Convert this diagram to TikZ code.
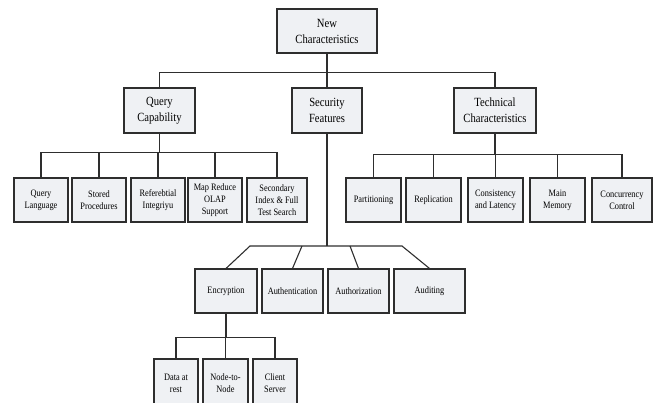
\documentclass[tikz,border=0pt]{standalone}
\usepackage{fontspec}
\setmainfont[FakeStretch=0.85]{Liberation Serif}
\definecolor{boxfill}{HTML}{EFF1F4}
\definecolor{boxline}{HTML}{2E2E2E}
\tikzset{
  bigbox/.style={draw=boxline, line width=1.1pt, fill=boxfill, align=center,
    minimum height=44pt, inner sep=1pt, font=\fontsize{12.5}{16}\selectfont},
  smallbox/.style={bigbox, font=\fontsize{9.8}{12.3}\selectfont},
  link/.style={draw=boxline, line width=1.1pt}
}
\begin{document}
\begin{tikzpicture}[x=1pt,y=-1pt]
    \useasboundingbox (0,0) rectangle (653,402);

    % Raíz
    \node[bigbox, minimum width=100pt] (root) at (327,31) {New\\Characteristics};

    % Primer nivel
    \node[bigbox, minimum width=71pt, minimum height=45pt] (qc) at (159.5,110.5) {Query\\Capability};
    \node[bigbox, minimum width=70pt, minimum height=45pt] (sf) at (327,110.5) {Security\\Features};
    \node[bigbox, minimum width=82pt, minimum height=45pt] (tc) at (495,110.5) {Technical\\Characteristics};

    % Hijos de Query Capability
    \node[smallbox, minimum width=54pt] (ql) at (41,200) {Query\\Language};
    \node[smallbox, minimum width=54pt] (sp) at (99,200) {Stored\\Procedures};
    \node[smallbox, minimum width=54pt] (ri) at (158,200) {Referebtial\\Integriyu};
    \node[smallbox, minimum width=54pt] (mr) at (215,200) {Map Reduce\\OLAP\\Support};
    \node[smallbox, minimum width=60pt] (si) at (277,200) {Secondary\\Index \& Full\\Test Search};

    % Hijos de Technical Characteristics
    \node[smallbox, minimum width=55pt] (pa) at (373.5,200) {Partitioning};
    \node[smallbox, minimum width=55pt] (rp) at (433.5,200) {Replication};
    \node[smallbox, minimum width=55pt] (cl) at (495.5,200) {Consistency\\and Latency};
    \node[smallbox, minimum width=55pt] (mm) at (557.5,200) {Main\\Memory};
    \node[smallbox, minimum width=60pt] (cc) at (622,200) {Concurrency\\Control};

    % Hijos de Security Features
    \node[smallbox, minimum width=62pt] (en) at (226,291) {Encryption};
    \node[smallbox, minimum width=61pt] (au) at (292.5,291) {Authentication};
    \node[smallbox, minimum width=61pt] (az) at (358.5,291) {Authorization};
    \node[smallbox, minimum width=71pt] (ad) at (429.5,291) {Auditing};

    % Hijos de Encryption
    \node[smallbox, minimum width=44pt, minimum height=48pt] (dr) at (176,383) {Data at\\rest};
    \node[smallbox, minimum width=45pt, minimum height=48pt] (nn) at (225.5,383) {Node-to-\\Node};
    \node[smallbox, minimum width=44pt, minimum height=48pt] (cs) at (275,383) {Client\\Server};

    % Conectores
    \draw[link] (root.south) -- ++(0,19) coordinate (r1);
    \draw[link] (qc.north) |- (r1) -| (tc.north);
    \draw[link] (r1) -- (sf.north);

    \draw[link] (qc.south) -- ++(0,19) coordinate (q1);
    \foreach \c in {ql,sp,ri,mr,si}
        \draw[link] (q1) -| (\c.north);

    \draw[link] (tc.south) -- ++(0,21) coordinate (t1);
    \foreach \c in {pa,rp,cl,mm,cc}
        \draw[link] (t1) -| (\c.north);

    \coordinate (b1) at (250,246);
    \coordinate (b2) at (302,246);
    \coordinate (b3) at (350,246);
    \coordinate (b4) at (402,246);
    \draw[link] (sf.south) -- (sf.south |- b1);
    \draw[link] (en.north) -- (b1) -- (b4) -- (ad.north);
    \draw[link] (b2) -- (au.north);
    \draw[link] (b3) -- (az.north);

    \draw[link] (en.south) -- ++(0,24) coordinate (e1);
    \foreach \c in {dr,nn,cs}
        \draw[link] (e1) -| (\c.north);
\end{tikzpicture}
\end{document}
